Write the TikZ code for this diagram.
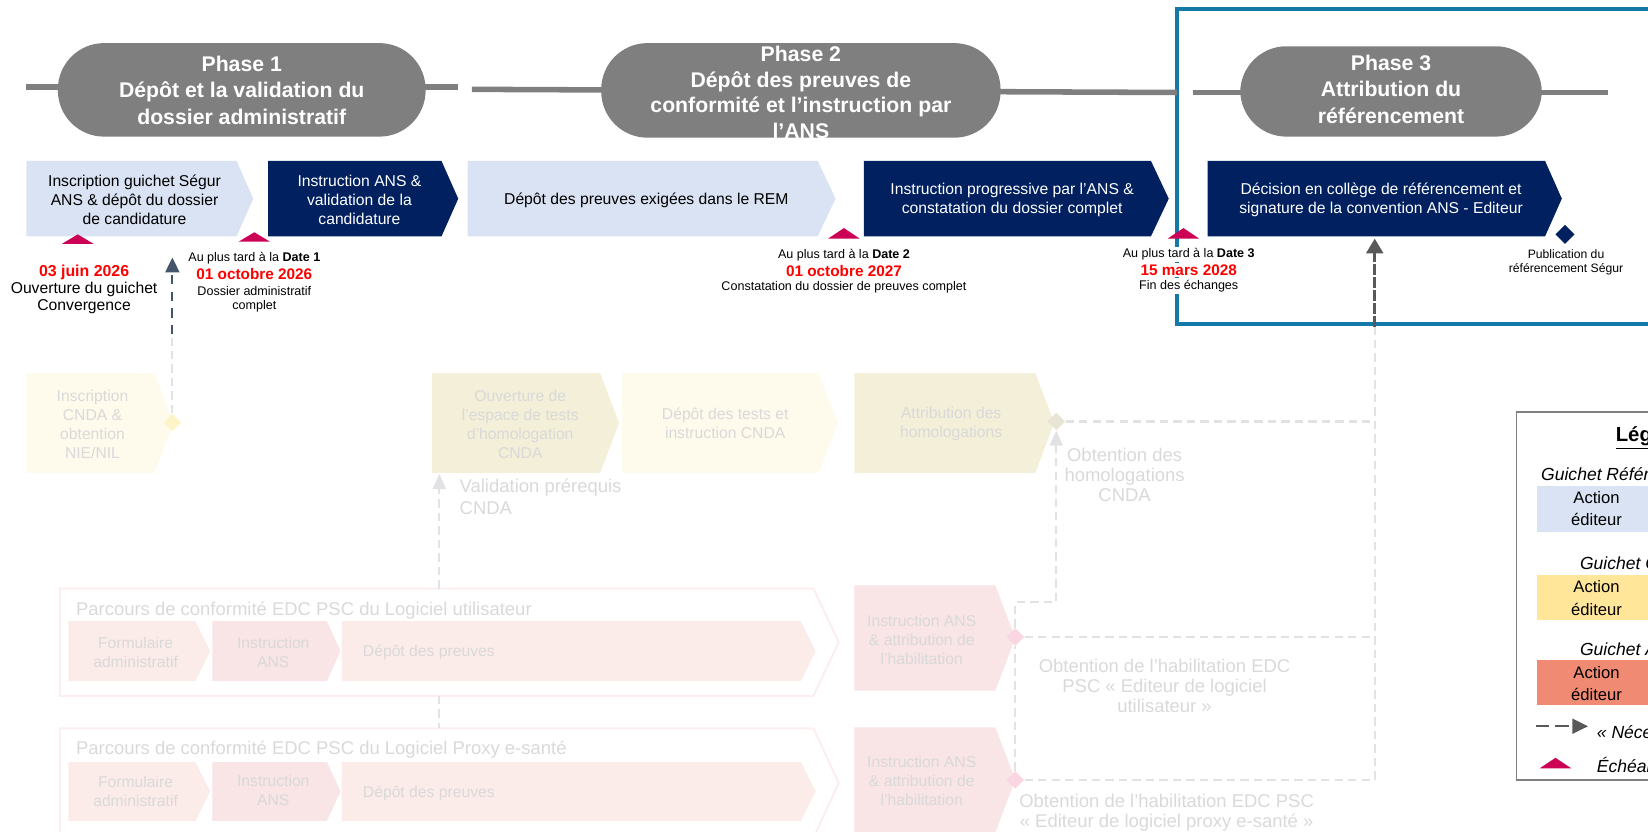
\documentclass[tikz,border=0pt]{standalone}
\usepackage{fontspec}
\setmainfont{Liberation Sans}
\usetikzlibrary{arrows.meta,shapes.geometric}

\definecolor{phasegray}{HTML}{7F7F7F}
\definecolor{navy}{HTML}{002060}
\definecolor{paleblue}{HTML}{DAE3F3}
\definecolor{echred}{HTML}{CC0055}
\definecolor{framebl}{HTML}{1479A8}
\definecolor{slate}{HTML}{44546A}
\definecolor{darkgr}{HTML}{595959}
\definecolor{fadetxt}{HTML}{D9D9D9}
\definecolor{fadeline}{HTML}{E2E2E4}
\definecolor{fadeyel}{HTML}{FEFAEC}
\definecolor{fadetan}{HTML}{F3EFD8}
\definecolor{fadepink}{HTML}{FCECE9}
\definecolor{fadepinkb}{HTML}{F9E4E6}
\definecolor{fadeframe}{HTML}{FCEEEF}
\definecolor{diayel}{HTML}{FDF5C8}
\definecolor{diatan}{HTML}{E8E4D6}
\definecolor{diapink}{HTML}{F9D6E2}
\definecolor{legyel}{HTML}{FFE699}
\definecolor{legsal}{HTML}{F08A72}
\definecolor{legframe}{HTML}{7F7F7F}

\newcommand\phasefont{\fontsize{11.5}{14.2}\selectfont\bfseries}
\newcommand\boxfont{\fontsize{8.5}{10.2}\selectfont}
\newcommand\datefont{\fontsize{8.3}{10}\selectfont\bfseries}
\newcommand\labfont{\fontsize{8.5}{10.2}\selectfont}
\newcommand\tinyfont{\fontsize{6.8}{8.2}\selectfont}
\newcommand\fadefont{\fontsize{10}{10.8}\selectfont}
\newcommand\legfont{\fontsize{9}{12}\selectfont}
\newcommand\legitfont{\fontsize{9.5}{12}\selectfont\itshape}

\def\pentabox[#1](#2,#3)(#4,#5)(#6){\path[#1] (#2,#3) -- ({#4-#6},#3) -- (#4,{(#3+#5)/2}) -- ({#4-#6},#5) -- (#2,#5) -- cycle;}
\def\echeance(#1,#2)(#3){\fill[echred] ({#1-15},#2) -- ({#1+15},#2) -- (#1,{#2-#3}) -- cycle;}

\tikzset{
  phaseline/.style={draw=phasegray, line width=3pt},
  phasepill/.style={fill=phasegray, rounded corners=0.88cm, inner sep=0pt},
  phasetxt/.style={font=\phasefont, text=white, align=center, inner sep=0pt},
  boxtxt/.style={font=\boxfont, align=center, inner sep=0pt},
  datered/.style={font=\datefont, text=red, fill=white, inner sep=1pt},
  datetxt/.style={font=\labfont, fill=white, inner sep=1pt},
  smalltxt/.style={font=\tinyfont, fill=white, inner sep=1pt},
  fadebox/.style={font=\boxfont, text=fadetxt, align=center, inner sep=0pt},
  fadelbl/.style={font=\fadefont, text=fadetxt, align=center, inner sep=0pt},
  fadedash/.style={draw=fadeline, line width=1.2pt, dash pattern=on 4.5pt off 2.8pt},
  slatedash/.style={draw=slate, line width=1.2pt, dash pattern=on 5pt off 4pt},
  darkdash/.style={draw=darkgr, line width=1.8pt, dash pattern=on 6pt off 1pt},
  legtxt/.style={font=\legfont, align=center, inner sep=0pt},
  legit/.style={font=\legitfont, inner sep=0pt, anchor=west}
}

\begin{document}
\begin{tikzpicture}[x=0.02cm,y=-0.02cm]
		\useasboundingbox (0,0) rectangle (1568,791);
		\clip (0,0) rectangle (1568,791);
		%%%%% START %%%%%
		\draw[framebl, line width=2.2pt] (1600,308) -- (1120,308) -- (1120,9) -- (1600,9);
		
		% phases
		\draw[phaseline] (25,83) -- (436,83);
		\draw[phaseline] (449,85) -- (1120,88);
		\draw[phaseline] (1135,88) -- (1530,88);
		\node[phasepill, minimum width=7cm, minimum height=1.78cm] (phaseI) at (230,85.5) {};
		\node[phasepill, minimum width=7.6cm, minimum height=1.8cm] (phaseII) at (762,86) {};
		\node[phasepill, minimum width=5.74cm, minimum height=1.72cm] (phaseIII) at (1323.5,87) {};
		\node[phasetxt] (phaseItxt) at (230,86) {Phase 1\\Dépôt et la validation du\\dossier administratif};
		\node[phasetxt, font=\fontsize{11.5}{13.9}\selectfont\bfseries] (phaseIItxt) at (762,88) {Phase 2\\Dépôt des preuves de\\conformité et l’instruction par\\l’ANS};
		\node[phasetxt] (phaseIIItxt) at (1323.5,85) {Phase 3\\Attribution du\\référencement};
		
		% etapes du guichet Segur
		\pentabox[fill=paleblue](25,153)(241,225)(16)
		\node[boxtxt] (inscrSegur) at (128,190) {Inscription guichet Ségur\\ANS \& dépôt du dossier\\de candidature};
		\pentabox[fill=navy](255,153)(436,225)(16)
		\node[boxtxt, text=white] (instrANS) at (342,190) {Instruction ANS \&\\validation de la\\candidature};
		\pentabox[fill=paleblue](445,153)(795,225)(17)
		\node[boxtxt] (depotREM) at (615,191) {Dépôt des preuves exigées dans le REM};
		\pentabox[fill=navy](822,153)(1112,225)(17)
		\node[boxtxt, text=white] (instrProg) at (963,190) {Instruction progressive par l’ANS \&\\constatation du dossier complet};
		\pentabox[fill=navy](1149,153)(1486,225)(16)
		\node[boxtxt, text=white] (decision) at (1314,190) {Décision en collège de référencement et\\signature de la convention ANS - Editeur};
		
		% dates
		\node[datered, font=\fontsize{8.6}{10}\selectfont\bfseries] (juinDate) at (80,259) {03 juin 2026};
		\node[datetxt] (juinA) at (80,275) {Ouverture du guichet};
		\node[datetxt] (juinB) at (80,292) {Convergence};
		\node[smalltxt] (dateIa) at (242,246) {Au plus tard à la \textbf{Date 1}};
		\node[datered] (dateIb) at (242,261) {01 octobre 2026};
		\node[smalltxt] (dateIc) at (242,277) {Dossier administratif};
		\node[smalltxt] (dateId) at (242,291) {complet};
		\node[smalltxt] (dateIIa) at (803,243) {Au plus tard à la \textbf{Date 2}};
		\node[datered] (dateIIb) at (803,258) {01 octobre 2027};
		\node[smalltxt] (dateIIc) at (803,273) {Constatation du dossier de preuves complet};
		\node[smalltxt] (dateIIIa) at (1131,242) {Au plus tard à la \textbf{Date 3}};
		\node[datered] (dateIIIb) at (1131,257) {15 mars 2028};
		\node[smalltxt] (dateIIIc) at (1131,272) {Fin des échanges};
		\echeance(74,232)(9)
		\echeance(242,230)(9)
		\echeance(803,227)(10)
		\echeance(1126,227)(10)
		\node[diamond, fill=navy, minimum size=0.37cm, inner sep=0pt] (publi) at (1489,223) {};
		\node[smalltxt, font=\fontsize{6.6}{8}\selectfont] (publiA) at (1490,242) {Publication du};
		\node[smalltxt, font=\fontsize{6.6}{8}\selectfont] (publiB) at (1490,256) {référencement Ségur};
		
		% guichet CNDA
		\pentabox[fill=fadeyel](25,355)(165,450)(18)
		\node[fadebox] (inscrCNDA) at (88,404) {Inscription\\CNDA \&\\obtention\\NIE/NIL};
		\node[diamond, fill=diayel, minimum size=0.34cm, inner sep=0pt] (diaInscr) at (164,402) {};
		\pentabox[fill=fadetan](411,355)(589,450)(18)
		\node[fadebox] (ouvCNDA) at (495,404) {Ouverture de\\l’espace de tests\\d’homologation\\CNDA};
		\pentabox[fill=fadeyel](592,355)(797,450)(18)
		\node[fadebox] (testCNDA) at (690,403) {Dépôt des tests et\\instruction CNDA};
		\pentabox[fill=fadetan](813,355)(1003,450)(18)
		\node[fadebox] (attrHom) at (905,403) {Attribution des\\homologations};
		\node[diamond, fill=diatan, minimum size=0.34cm, inner sep=0pt] (diaHom) at (1005,401) {};
		\node[fadelbl, align=left, anchor=west, font=\fontsize{10}{12}\selectfont] (valCNDA) at (437,473) {Validation prérequis\\CNDA};
		\node[fadelbl] (obtHom) at (1070,452) {Obtention des\\homologations\\CNDA};
		
		% parcours EDC PSC
		\pentabox[draw=fadeframe, line width=1.1pt](57,560)(798,662)(24)
		\node[fadelbl, anchor=west] (parcUtitre) at (72,581) {Parcours de conformité EDC PSC du Logiciel utilisateur};
		\pentabox[fill=fadepink](65,591)(200,648)(14)
		\pentabox[fill=fadepinkb](202,591)(324,648)(13)
		\pentabox[fill=fadepink](325,591)(776,648)(14)
		\node[fadebox] (formU) at (129,621) {Formulaire\\administratif};
		\node[fadebox] (instrU) at (260,621) {Instruction\\ANS};
		\node[fadebox, anchor=west] (depotU) at (345,621) {Dépôt des preuves};
		\pentabox[draw=fadeframe, line width=1.1pt](57,693)(798,797)(24)
		\node[fadelbl, anchor=west] (parcPtitre) at (72,713) {Parcours de conformité EDC PSC du Logiciel Proxy e-santé};
		\pentabox[fill=fadepink](65,725)(200,781)(14)
		\pentabox[fill=fadepinkb](202,725)(324,781)(13)
		\pentabox[fill=fadepink](325,725)(776,781)(14)
		\node[fadebox] (formP) at (129,753) {Formulaire\\administratif};
		\node[fadebox] (instrP) at (260,752) {Instruction\\ANS};
		\node[fadebox, anchor=west] (depotP) at (345,755) {Dépôt des preuves};
		\pentabox[fill=fadepinkb](813,557)(966,657)(19)
		\node[fadebox] (habU) at (877,609) {Instruction ANS\\\& attribution de\\l’habilitation};
		\pentabox[fill=fadepinkb](813,692)(966,792)(19)
		\node[fadebox] (habP) at (877,743) {Instruction ANS\\\& attribution de\\l’habilitation};
		\node[diamond, fill=diapink, minimum size=0.34cm, inner sep=0pt] (diaHabU) at (966,606) {};
		\node[diamond, fill=diapink, minimum size=0.34cm, inner sep=0pt] (diaHabP) at (966,742) {};
		\node[fadelbl] (obtHabU) at (1108,653) {Obtention de l’habilitation EDC\\PSC « Editeur de logiciel\\utilisateur »};
		\node[fadelbl] (obtHabP) at (1110,773) {Obtention de l’habilitation EDC PSC\\« Editeur de logiciel proxy e-santé »};
		
		% liens
		\coordinate (necI) at (164,245);
		\coordinate (fadeI) at (164,318);
		\coordinate (decIn) at (1308,227);
		\coordinate (decFade) at (1308,311);
		\coordinate (habTurn) at (966,573);
		\coordinate (homTurn) at (1005,573);
		\coordinate (busHom) at (1308,401);
		\coordinate (busU) at (1308,606);
		\coordinate (busP) at (1308,742);
		\coordinate (parcUtop) at (418,560);
		\coordinate (ouvBot) at (418,451);
		\coordinate (parcUbot) at (418,662);
		\coordinate (parcPtop) at (418,693);
		\draw[fadedash, -{Triangle[width=7pt,length=8pt]}] (parcUtop) -- (ouvBot);
		\draw[fadedash] (parcUbot) -- (parcPtop);
		\draw[fadedash] (diaHom.east) -- (busHom);
		\draw[fadedash] (diaHabU.east) -- (busU);
		\draw[fadedash] (diaHabP.east) -- (busP) -- (decFade);
		\draw[fadedash] (diaHabP.north) -- (diaHabU.south);
		\draw[fadedash, -{Triangle[width=7pt,length=8pt]}] (diaHabU.north) -- (habTurn) -- (homTurn) -- (diaHom.south);
		\draw[fadedash] (diaInscr.north) -- (fadeI);
		\draw[slatedash, -{Triangle[width=7.5pt,length=8pt]}] (fadeI) -- (necI);
		\draw[darkdash, -{Triangle[width=9pt,length=8pt]}] (decFade) -- (decIn);
		
		% legende
		\draw[draw=legframe, fill=white, line width=0.8pt] (1443,392) rectangle (1600,742);
		\node[inner sep=0pt, anchor=west, font=\fontsize{11}{13}\selectfont\bfseries] (legTitre) at (1537,417) {\underline{Légende}};
		\node[legit] (legRef) at (1466,451) {Guichet Référencement};
		\fill[paleblue] (1462,462) rectangle (1600,506);
		\node[legtxt] (legRefAct) at (1519,484) {Action\\éditeur};
		\node[legit] (legCNDA) at (1503,536) {Guichet CNDA};
		\fill[legyel] (1462,547) rectangle (1600,590);
		\node[legtxt] (legCNDAAct) at (1519,569) {Action\\éditeur};
		\node[legit] (legANS) at (1503,618) {Guichet ANS};
		\fill[legsal] (1462,628) rectangle (1600,671);
		\node[legtxt] (legANSAct) at (1519,650) {Action\\éditeur};
		\coordinate (legArrA) at (1461,691);
		\coordinate (legArrB) at (1511,691);
		\draw[draw=darkgr, line width=1.3pt, dash pattern=on 7.5pt off 3pt, -{Triangle[width=8pt,length=8.5pt]}] (legArrA) -- (legArrB);
		\node[legit] (legNec) at (1519,697) {« Nécessaire à »};
		\echeance(1480,731)(10)
		\node[legit] (legEch) at (1519,728) {Échéance};
		%%%%% END %%%%%
	\end{tikzpicture}
\end{document}
